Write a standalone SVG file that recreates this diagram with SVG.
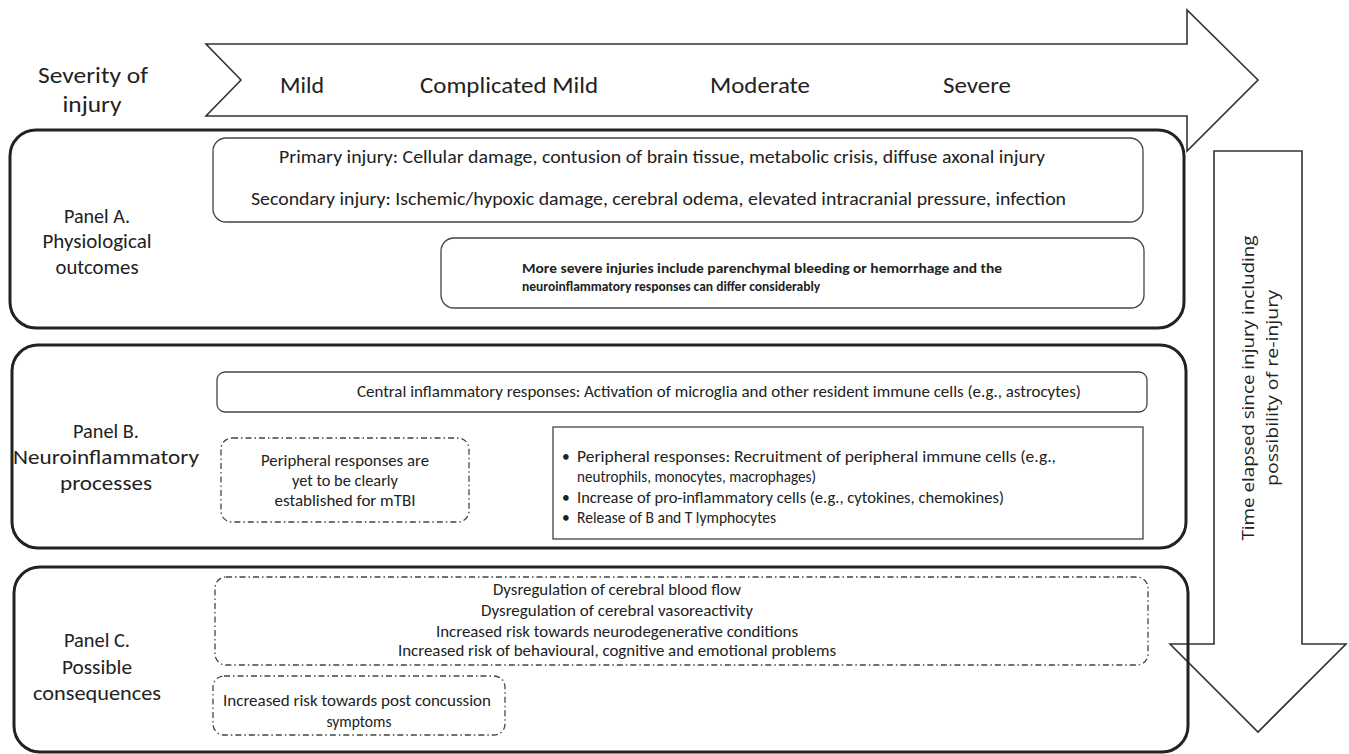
<svg xmlns="http://www.w3.org/2000/svg" width="1349" height="754" viewBox="0 0 1349 754">
<style>
text{font-family:Carlito,"Liberation Sans",Arial,sans-serif;fill:#222}
.lbl{font-size:22px}
.pl{font-size:21px;text-anchor:middle}
.a1{font-size:18.5px}
.sm{font-size:15.5px}
.bold{font-size:13.5px;font-weight:bold}
.rot{font-family:"Open Sans","DejaVu Sans",sans-serif;font-size:16px;text-anchor:middle}
.mid{text-anchor:middle}
.arrow{fill:#fff;stroke:#333;stroke-width:1.6}
.panel{fill:none;stroke:#222;stroke-width:3}
.box{fill:#fff;stroke:#444;stroke-width:1.3}
.dash{fill:none;stroke:#444;stroke-width:1.3;stroke-dasharray:6 3 1.5 3}
</style>
<g id="connectors">
<polygon id="severity-arrow" class="arrow" points="206,44 1187,44 1187,10 1258,80 1187,151 1187,116 206,116 241,80"/>
<polygon id="time-arrow" class="arrow" points="1214,151 1302,151 1302,644 1346,644 1258,732 1170,644 1214,644"/>
</g>
<g id="severity-label">
<text class="lbl mid" x="93" y="83" textLength="110" lengthAdjust="spacingAndGlyphs">Severity of</text>
<text class="lbl mid" x="92" y="112" textLength="59" lengthAdjust="spacingAndGlyphs">injury</text>
</g>
<g id="severity-levels">
<text class="lbl" x="280" y="93" textLength="44" lengthAdjust="spacingAndGlyphs">Mild</text>
<text class="lbl" x="420" y="93" textLength="178" lengthAdjust="spacingAndGlyphs">Complicated Mild</text>
<text class="lbl" x="710" y="93" textLength="100" lengthAdjust="spacingAndGlyphs">Moderate</text>
<text class="lbl" x="943" y="93" textLength="68" lengthAdjust="spacingAndGlyphs">Severe</text>
</g>
<g id="time-label">
<text class="rot" transform="translate(1254,388) rotate(-90)" textLength="305" lengthAdjust="spacingAndGlyphs">Time elapsed since injury including</text>
<text class="rot" transform="translate(1278,388) rotate(-90)" textLength="196" lengthAdjust="spacingAndGlyphs">possibility of re-injury</text>
</g>
<g id="panel-a">
<rect class="panel" x="10" y="130" width="1174" height="198" rx="26"/>
<text class="pl" x="97" y="223" textLength="66" lengthAdjust="spacingAndGlyphs">Panel A.</text>
<text class="pl" x="97" y="248" textLength="109" lengthAdjust="spacingAndGlyphs">Physiological</text>
<text class="pl" x="97" y="274" textLength="83" lengthAdjust="spacingAndGlyphs">outcomes</text>
</g>
<g id="injury-box">
<rect class="box" x="213" y="138" width="930" height="84" rx="13"/>
<text class="a1" x="279" y="163" textLength="766" lengthAdjust="spacingAndGlyphs">Primary injury:  Cellular damage, contusion of brain tissue, metabolic crisis, diffuse axonal injury</text>
<text class="a1" x="251" y="205" textLength="815" lengthAdjust="spacingAndGlyphs">Secondary injury:  Ischemic/hypoxic damage, cerebral odema, elevated intracranial pressure, infection</text>
</g>
<g id="severe-box">
<rect class="box" x="441" y="238" width="703" height="70" rx="13"/>
<text class="bold" x="522" y="273" textLength="480" lengthAdjust="spacingAndGlyphs">More severe injuries include parenchymal bleeding or hemorrhage and the</text>
<text class="bold" x="522" y="291">neuroinflammatory responses can differ considerably</text>
</g>
<g id="panel-b">
<rect class="panel" x="12" y="345" width="1174" height="203" rx="26"/>
<text class="pl" x="106" y="438" textLength="66" lengthAdjust="spacingAndGlyphs">Panel B.</text>
<text class="pl" x="106" y="464" textLength="186" lengthAdjust="spacingAndGlyphs">Neuroinflammatory</text>
<text class="pl" x="106" y="490" textLength="92" lengthAdjust="spacingAndGlyphs">processes</text>
</g>
<g id="central-box">
<rect class="box" x="217" y="372" width="930" height="40" rx="8"/>
<text class="sm" x="357" y="397" textLength="724" lengthAdjust="spacingAndGlyphs">Central inflammatory responses: Activation of microglia and other resident immune cells (e.g., astrocytes)</text>
</g>
<g id="peripheral-mtbi-box">
<rect class="dash" x="221" y="438" width="248" height="84" rx="11"/>
<text class="sm mid" x="345" y="466" textLength="168" lengthAdjust="spacingAndGlyphs">Peripheral responses are</text>
<text class="sm mid" x="345" y="486" textLength="106" lengthAdjust="spacingAndGlyphs">yet to be clearly</text>
<text class="sm mid" x="345" y="506" textLength="141" lengthAdjust="spacingAndGlyphs">established for mTBI</text>
</g>
<g id="peripheral-box">
<rect class="box" x="553" y="427" width="590" height="112" fill="#fff"/>
<text class="sm" x="562" y="462">•</text>
<text class="sm" x="577" y="462" textLength="479" lengthAdjust="spacingAndGlyphs">Peripheral responses: Recruitment of peripheral immune cells (e.g.,</text>
<text class="sm" x="577" y="482" textLength="239" lengthAdjust="spacingAndGlyphs">neutrophils, monocytes, macrophages)</text>
<text class="sm" x="562" y="503">•</text>
<text class="sm" x="577" y="503" textLength="427" lengthAdjust="spacingAndGlyphs">Increase of pro-inflammatory cells (e.g., cytokines, chemokines)</text>
<text class="sm" x="562" y="523">•</text>
<text class="sm" x="577" y="523" textLength="199" lengthAdjust="spacingAndGlyphs">Release of B and T lymphocytes</text>
</g>
<g id="panel-c">
<rect class="panel" x="14" y="567" width="1174" height="185" rx="26"/>
<text class="pl" x="97" y="647" textLength="66" lengthAdjust="spacingAndGlyphs">Panel C.</text>
<text class="pl" x="97" y="674" textLength="70" lengthAdjust="spacingAndGlyphs">Possible</text>
<text class="pl" x="97" y="700" textLength="128" lengthAdjust="spacingAndGlyphs">consequences</text>
</g>
<g id="consequences-box">
<rect class="dash" x="215" y="577" width="933" height="88" rx="11"/>
<text class="sm mid" x="617" y="595" textLength="248" lengthAdjust="spacingAndGlyphs">Dysregulation of cerebral blood flow</text>
<text class="sm mid" x="617" y="616" textLength="272" lengthAdjust="spacingAndGlyphs">Dysregulation of cerebral vasoreactivity</text>
<text class="sm mid" x="617" y="637" textLength="362" lengthAdjust="spacingAndGlyphs">Increased risk towards neurodegenerative conditions</text>
<text class="sm mid" x="617" y="656" textLength="438" lengthAdjust="spacingAndGlyphs">Increased risk of behavioural, cognitive and emotional problems</text>
</g>
<g id="pcs-box">
<rect class="dash" x="213" y="676" width="292" height="59" rx="11"/>
<text class="sm mid" x="357" y="706" textLength="268" lengthAdjust="spacingAndGlyphs">Increased risk towards post concussion</text>
<text class="sm mid" x="359" y="727" textLength="65" lengthAdjust="spacingAndGlyphs">symptoms</text>
</g>
</svg>
